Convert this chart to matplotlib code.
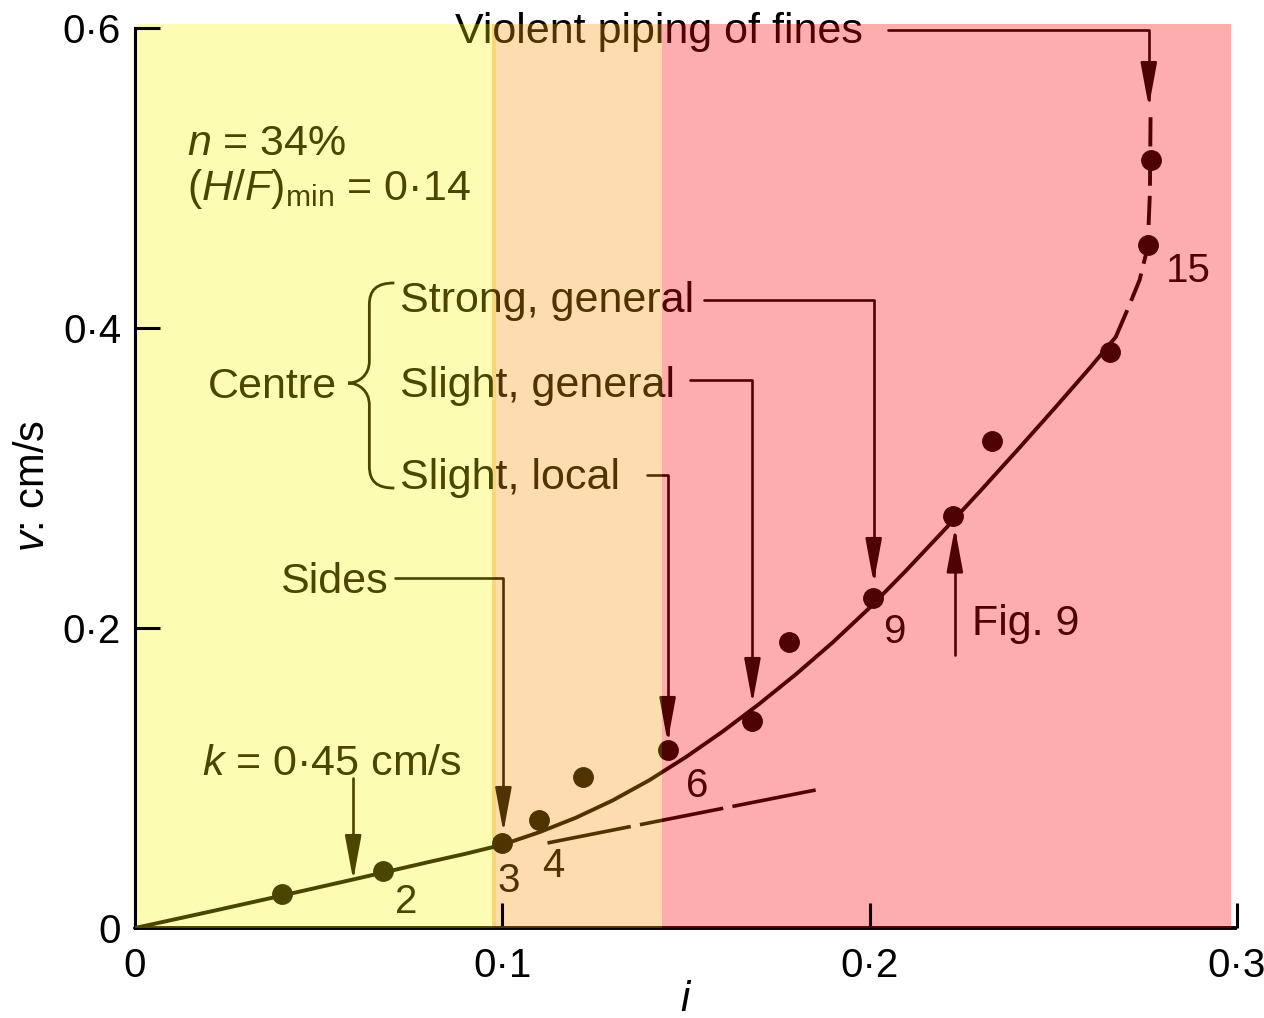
import matplotlib
matplotlib.use("Agg")
import matplotlib.pyplot as plt
from matplotlib.patches import Rectangle, FancyArrowPatch, PathPatch
from matplotlib.path import Path

plt.rcParams['font.family'] = ['Liberation Sans', 'DejaVu Sans']
plt.rcParams['mathtext.fontset'] = 'custom'
plt.rcParams['mathtext.rm'] = 'Liberation Sans'
plt.rcParams['mathtext.it'] = 'Liberation Sans:italic'

# Measured seepage velocity v (cm/s) against hydraulic gradient i
i_obs = [0.040, 0.0675, 0.100, 0.110, 0.122, 0.1450, 0.1680, 0.178, 0.2008, 0.2228, 0.2332, 0.2655, 0.2757, 0.2765]
v_obs = [0.0225, 0.038, 0.0567, 0.072, 0.1005, 0.1190, 0.1380, 0.191, 0.2200, 0.2750, 0.3245, 0.3840, 0.4550, 0.5120]

# Test numbers written beside selected points
test_ids = ["2", "3", "4", "6", "9", "15"]
test_id_i = [0.0708, 0.0986, 0.1109, 0.1499, 0.2038, 0.2807]
test_id_v = [0.0100, 0.0240, 0.0340, 0.0873, 0.1900, 0.4307]

# Fitted curve (solid) and its extrapolation (dashed)
curve_i = [0.000, 0.020, 0.040, 0.060, 0.080, 0.090, 0.100, 0.110, 0.120, 0.130,
           0.140, 0.150, 0.160, 0.170, 0.180, 0.190, 0.200, 0.210, 0.220, 0.230,
           0.240, 0.250, 0.260, 0.267]
curve_v = [0.0000, 0.0107, 0.0216, 0.0327, 0.0440, 0.0495, 0.0555, 0.0638, 0.0735, 0.0850,
           0.0985, 0.1140, 0.1310, 0.1495, 0.1693, 0.1905, 0.2135, 0.2385, 0.2645, 0.2910,
           0.3180, 0.3455, 0.3735, 0.3940]
ext_i = [0.267, 0.2705, 0.2735, 0.2757, 0.2763, 0.2765]
ext_v = [0.394, 0.4140, 0.4320, 0.4540, 0.4900, 0.5470]

# Straight laminar-flow line, k = 0.45 cm/s
k_line_i = [0.1123, 0.1853]
k_line_v = [0.0567, 0.0920]

# Shaded ranges of i: (start, end, fill, ink)
zones = [
    (0.0000, 0.0975, '#FDFCB3', '#4A4600'),
    (0.0975, 0.1436, '#FDDDB0', '#4F3300'),
    (0.1436, 0.2984, '#FDADAD', '#4F0202'),
]
zone_top = 0.6027

annotations = [
    ("Violent piping of fines", 0.0872, 0.590),
    ("$n$ = 34%", 0.0142, 0.5153),
    ("$(H/F)_{\\mathrm{min}}$ = 0·14", 0.0142, 0.4853),
    ("Centre", 0.0199, 0.3533),
    ("Strong, general", 0.0722, 0.4107),
    ("Slight, general", 0.0722, 0.3540),
    ("Slight, local", 0.0722, 0.2927),
    ("Sides", 0.0395, 0.2233),
    ("$k$ = 0·45 cm/s", 0.0183, 0.1020),
    ("Fig. 9", 0.2280, 0.1953),
]

leaders = [
    [(0.205, 0.5987), (0.2760, 0.5987), (0.2760, 0.5473)],
    [(0.155, 0.4187), (0.2011, 0.4187), (0.2011, 0.2300)],
    [(0.1512, 0.3653), (0.1681, 0.3653), (0.1681, 0.1500)],
    [(0.1395, 0.3020), (0.1450, 0.3020), (0.1450, 0.1240)],
    [(0.0708, 0.2333), (0.1003, 0.2333), (0.1003, 0.0640)],
    [(0.0594, 0.1000), (0.0594, 0.0320)],
    [(0.2232, 0.1820), (0.2232, 0.2670)],
]

# Brace grouping the three "Centre" observations
brace_x_end, brace_x_stem, brace_x_tip = 0.0706, 0.0638, 0.0580
brace_y_top, brace_y_mid, brace_y_bot = 0.4300, 0.3633, 0.2933
brace_r = 0.0147

fig = plt.figure(figsize=(12.64, 10.18), dpi=100)
fig.patch.set_facecolor('white')
ax = fig.add_axes([0.1068, 0.0884, 0.8718, 0.8841])
ax.set_xlim(0, 0.3)
ax.set_ylim(0, 0.6)
ax.patch.set_visible(False)

for x0, x1, fill, _ in zones:
    ax.add_patch(Rectangle((x0, 0), x1 - x0, zone_top, facecolor=fill,
                           edgecolor='none', zorder=1.5, clip_on=False))
ax.add_patch(Rectangle((0.0972, 0), 0.0011, zone_top, facecolor='#F9D57C',
                       edgecolor='none', zorder=1.6, clip_on=False))


def brace_path():
    xe, xs, xt = brace_x_end, brace_x_stem, brace_x_tip
    yt, ym, yb, r = brace_y_top, brace_y_mid, brace_y_bot, brace_r
    dx = xe - xs
    verts = [
        (xe, yt),
        (xs + 0.3 * dx, yt), (xs, yt - 0.3 * r), (xs, yt - r),
        (xs, ym + r),
        (xs, ym + 0.35 * r), (xt + 0.5 * (xs - xt), ym), (xt, ym),
        (xt + 0.5 * (xs - xt), ym), (xs, ym - 0.35 * r), (xs, ym - r),
        (xs, yb + r),
        (xs, yb + 0.3 * r), (xs + 0.3 * dx, yb), (xe, yb),
    ]
    codes = [Path.MOVETO,
             Path.CURVE4, Path.CURVE4, Path.CURVE4,
             Path.LINETO,
             Path.CURVE4, Path.CURVE4, Path.CURVE4,
             Path.CURVE4, Path.CURVE4, Path.CURVE4,
             Path.LINETO,
             Path.CURVE4, Path.CURVE4, Path.CURVE4]
    return Path(verts, codes)


def draw_ink(color, clip, z):
    arts = []
    arts += ax.plot(curve_i, curve_v, color=color, lw=2.8, zorder=z,
                    solid_capstyle='round', solid_joinstyle='round')
    arts += ax.plot(ext_i, ext_v, color=color, lw=2.8, dashes=(7.5, 2.6), zorder=z)
    arts += ax.plot(k_line_i, k_line_v, color=color, lw=2.6, dashes=(23.5, 2.6), zorder=z)
    arts += ax.plot(i_obs, v_obs, 'o', ms=14, color=color, mec=color, zorder=z)
    arts += ax.plot([0, 0.3], [0, 0], color=color, lw=2.8, solid_capstyle='butt', zorder=z)
    for txt, x, y in annotations:
        arts.append(ax.text(x, y, txt, fontsize=31, color=color, ha='left',
                            va='baseline', zorder=z))
    for txt, x, y in zip(test_ids, test_id_i, test_id_v):
        arts.append(ax.text(x, y, txt, fontsize=29, color=color, ha='left',
                            va='baseline', zorder=z))
    for pts in leaders:
        codes = [Path.MOVETO] + [Path.LINETO] * (len(pts) - 1)
        p = FancyArrowPatch(path=Path(pts, codes),
                            arrowstyle='-|>,head_length=27,head_width=5',
                            mutation_scale=1, color=color, lw=1.9,
                            transform=ax.transData, zorder=z)
        ax.add_patch(p)
        arts.append(p)
    b = PathPatch(brace_path(), facecolor='none', edgecolor=color, lw=2.0,
                  transform=ax.transData, zorder=z)
    ax.add_patch(b)
    arts.append(b)
    for a in arts:
        if clip is None:
            a.set_clip_on(False)
        else:
            a.set_clip_on(True)
            a.set_clip_path(clip)


draw_ink('black', None, 1.0)
for x0, x1, _, ink in zones:
    draw_ink(ink, Rectangle((x0, 0), x1 - x0, zone_top, transform=ax.transData), 3.0)

for side in ('top', 'right', 'bottom'):
    ax.spines[side].set_visible(False)
ax.spines['left'].set_linewidth(2.2)
ax.spines['left'].set_color('black')

ax.set_xticks([0, 0.1, 0.2, 0.3], ['0', '0·1', '0·2', '0·3'])
ax.set_yticks([0, 0.2, 0.4, 0.6], ['0', '0·2', '0·4', '0·6'])
ax.tick_params(direction='in', length=18, width=2.2, labelsize=29)
ax.tick_params(axis='x', pad=14)
ax.tick_params(axis='y', pad=10)
xt = ax.xaxis.get_major_ticks()
yt = ax.yaxis.get_major_ticks()
xt[0].tick1line.set_visible(False)
yt[0].tick1line.set_visible(False)
xt[1].tick1line.set_color(zones[1][3])
xt[2].tick1line.set_color(zones[2][3])
yt[1].tick1line.set_color(zones[0][3])
yt[2].tick1line.set_color(zones[0][3])

fig.text(33 / 1264, 1 - 486 / 1018, '$v$: cm/s', fontsize=30, rotation=90,
         ha='center', va='center')
fig.text(686 / 1264, 1 - 1000 / 1018, '$i$', fontsize=30, ha='center', va='center')

fig.savefig('out.png', dpi=100, facecolor='white')
